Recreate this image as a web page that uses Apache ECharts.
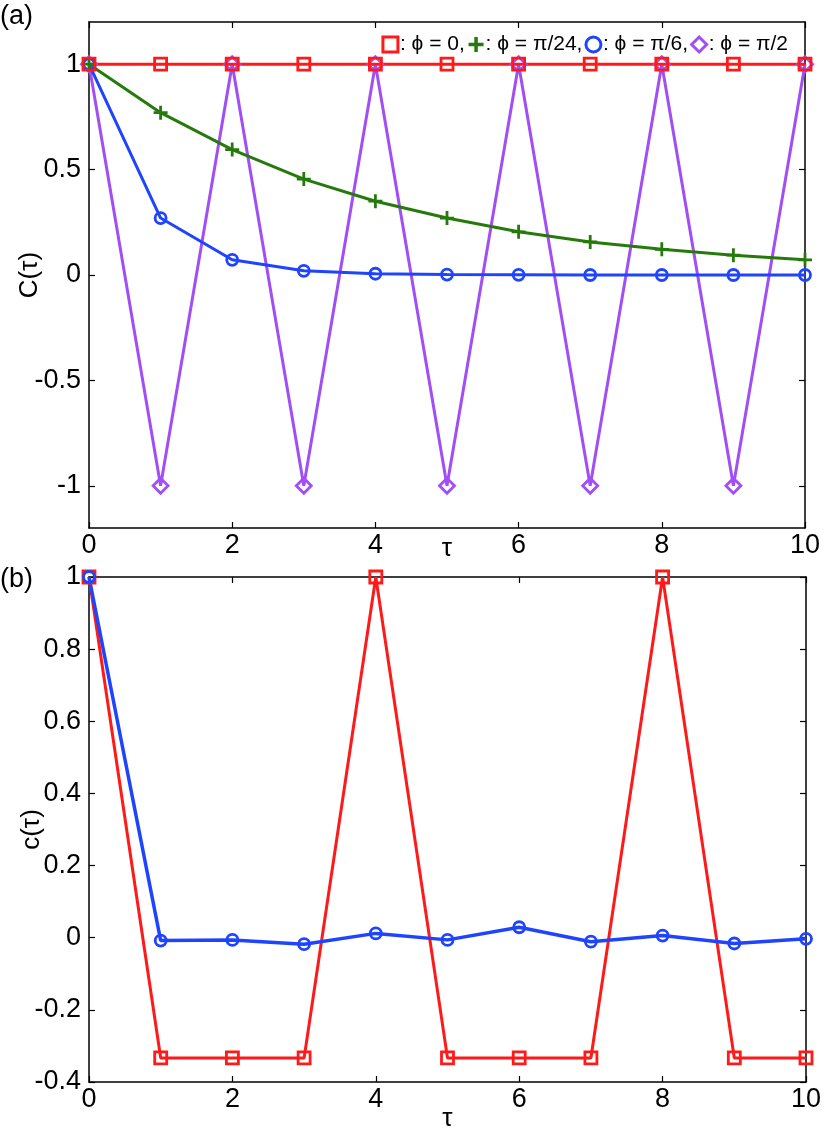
<!DOCTYPE html>
<html>
<head>
<meta charset="utf-8">
<script src="https://cdn.jsdelivr.net/npm/echarts@6/dist/echarts.min.js"></script>
<style>
html,body{margin:0;padding:0;background:#fff;}
#c{width:830px;height:1134px;}
</style>
</head>
<body>
<div id="c"></div>
<script>
// ---- data ----
const tau = [0,1,2,3,4,5,6,7,8,9,10];
const aPhi0    = [1,1,1,1,1,1,1,1,1,1,1];
const aPhiPi24 = [1,0.77,0.595,0.455,0.35,0.27,0.205,0.157,0.122,0.094,0.072];
const aPhiPi6  = [1,0.27,0.072,0.02,0.006,0.002,0.001,0,0,0,0];
const aPhiPi2  = [1,-1,1,-1,1,-1,1,-1,1,-1,1];
const bRed     = [1,-0.3333,-0.3333,-0.3333,1,-0.3333,-0.3333,-0.3333,1,-0.3333,-0.3333];
const bBlue    = [1,-0.008,-0.006,-0.018,0.012,-0.006,0.029,-0.011,0.006,-0.016,-0.003];
const xTicks   = [0,2,4,6,8,10];
const aYTicks  = [-1,-0.5,0,0.5,1];
const bYTicks  = [-0.4,-0.2,0,0.2,0.4,0.6,0.8,1];
const legendNames = ['ϕ = 0','ϕ = π/24','ϕ = π/6','ϕ = π/2'];

const RED='#ff1a1a', GREEN='#267a0c', BLUE='#1f44ff', PURPLE='#a24ef5';
const FONT = '"Liberation Sans",Arial,sans-serif';
const PLUS = 'path://M0,5L10,5M5,0L5,10';

function pts(ys){ return tau.map((t,i)=>[t,ys[i]]); }

const chart = echarts.init(document.getElementById('c'), null, {renderer:'canvas'});

function xAxes(gi, nameGap){
  return [
    {gridIndex:gi, type:'value', min:0, max:10, position:'bottom',
     name:'τ', nameLocation:'middle', nameGap:nameGap, nameMoveOverlap:false,
     nameTextStyle:{fontFamily:FONT, fontSize:26, color:'#000'},
     axisLine:{show:true, onZero:false, lineStyle:{color:'#000', width:1.5}},
     axisTick:{show:true, inside:true, length:6, customValues:xTicks, lineStyle:{color:'#000', width:1.2}},
     axisLabel:{customValues:xTicks, fontFamily:FONT, fontSize:27, color:'#000', margin:4},
     splitLine:{show:false}},
    {gridIndex:gi, type:'value', min:0, max:10, position:'top',
     axisLine:{show:true, onZero:false, lineStyle:{color:'#000', width:1.5}},
     axisTick:{show:true, inside:true, length:6, customValues:xTicks, lineStyle:{color:'#000', width:1.2}},
     axisLabel:{show:false}, splitLine:{show:false}}
  ];
}
function yAxes(gi, min, max, ticks, name, nameGap){
  return [
    {gridIndex:gi, type:'value', min:min, max:max, position:'left',
     name:name, nameLocation:'middle', nameGap:nameGap, nameRotate:90, nameMoveOverlap:false,
     nameTextStyle:{fontFamily:FONT, fontSize:26, color:'#000'},
     axisLine:{show:true, onZero:false, lineStyle:{color:'#000', width:1.5}},
     axisTick:{show:true, inside:true, length:6, customValues:ticks, lineStyle:{color:'#000', width:1.2}},
     axisLabel:{customValues:ticks, fontFamily:FONT, fontSize:27, color:'#000', margin:8},
     splitLine:{show:false}},
    {gridIndex:gi, type:'value', min:min, max:max, position:'right',
     axisLine:{show:true, onZero:false, lineStyle:{color:'#000', width:1.5}},
     axisTick:{show:true, inside:true, length:6, customValues:ticks, lineStyle:{color:'#000', width:1.2}},
     axisLabel:{show:false}, splitLine:{show:false}}
  ];
}

function ser(name, xi, yi, data, color, symbol, size, lw){
  return {
    name:name, type:'line', xAxisIndex:xi, yAxisIndex:yi, data:data,
    symbol:symbol, symbolSize:size, showAllSymbol:true, clip:false,
    lineStyle:{color:color, width:lw},
    itemStyle:{color:'rgba(255,255,255,0)', borderColor:color, borderWidth:2.8},
    emphasis:{disabled:true}, animation:false
  };
}

const option = {
  animation:false,
  backgroundColor:'#fff',
  grid:[
    {left:89, top:22, width:716, height:506, outerBoundsMode:'none', containLabel:false},
    {left:89, top:577, width:717, height:505, outerBoundsMode:'none', containLabel:false}
  ],
  xAxis:[...xAxes(0, 8), ...xAxes(1, 24)],
  yAxis:[...yAxes(0, -1.2, 1.2, aYTicks, 'C(τ)', 46), ...yAxes(1, -0.4, 1, bYTicks, 'c(τ)', 44)],
  legend:{
    right:37, top:29, orient:'horizontal', itemGap:2, itemWidth:15, itemHeight:15,
    selectedMode:false,
    data:[
      {name:legendNames[0], icon:'rect', itemStyle:{color:'rgba(255,255,255,0)', borderColor:RED, borderWidth:3}},
      {name:legendNames[1], icon:PLUS, itemStyle:{color:'rgba(255,255,255,0)', borderColor:GREEN, borderWidth:3.5}},
      {name:legendNames[2], icon:'circle', itemStyle:{color:'rgba(255,255,255,0)', borderColor:BLUE, borderWidth:3}},
      {name:legendNames[3], icon:'diamond', itemStyle:{color:'rgba(255,255,255,0)', borderColor:PURPLE, borderWidth:3}}
    ],
    formatter:function(n){ return n===legendNames[3] ? ': '+n : ': '+n+','; },
    textStyle:{fontFamily:FONT, fontSize:21, color:'#000', padding:[0,0,0,-3]}
  },
  graphic:[
    {type:'text', left:0, top:3, style:{text:'(a)', font:'27px '+FONT, fill:'#000'}},
    {type:'text', left:0, top:566, style:{text:'(b)', font:'27px '+FONT, fill:'#000'}}
  ],
  series:[
    ser(legendNames[3], 0, 0, pts(aPhiPi2), PURPLE, 'diamond', 15, 3),
    ser(legendNames[2], 0, 0, pts(aPhiPi6), BLUE, 'circle', 11, 3),
    ser(legendNames[1], 0, 0, pts(aPhiPi24), GREEN, PLUS, 14, 3),
    ser(legendNames[0], 0, 0, pts(aPhi0), RED, 'rect', 12, 3),
    ser('b-red', 2, 2, pts(bRed), RED, 'rect', 12, 3),
    ser('b-blue', 2, 2, pts(bBlue), BLUE, 'circle', 11, 3.5)
  ]
};
chart.setOption(option);
</script>
</body>
</html>
